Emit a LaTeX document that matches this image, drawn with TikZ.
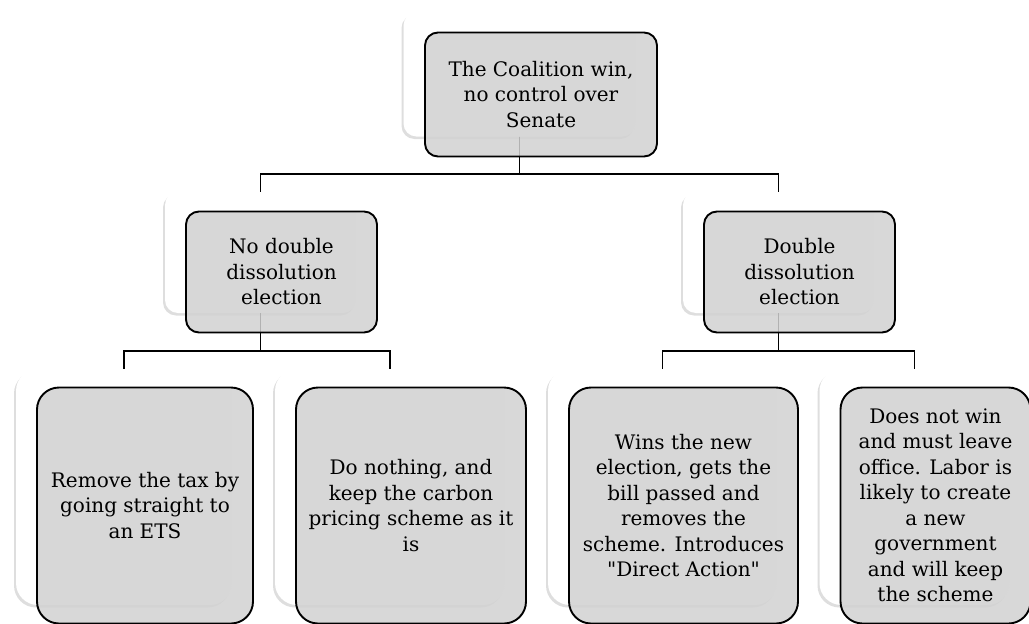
\documentclass[tikz,border=0pt]{standalone}
\usepackage{fontspec}
\usetikzlibrary{shadows}
\newfontfamily\boxfont{DejaVu Serif}

\tikzset{
    backbox/.style={fill=white, inner sep=0pt,
        drop shadow={shadow xshift=-2pt, shadow yshift=-2.5pt, opacity=0.13, fill=black}},
    frontbox/.style={draw=black, line width=1.9pt, fill=black!18, fill opacity=0.85,
        text opacity=1, inner sep=0pt, align=center,
        font=\boxfont\fontsize{20}{25.5}\selectfont},
    branch/.style={draw=black, line width=1.9pt},
}

\begin{document}
\begin{tikzpicture}[x=1pt, y=-1pt]
    \useasboundingbox (0,0) rectangle (1029,624);
    % back boxes
    \node[backbox, rounded corners=13pt, minimum width=232pt, minimum height=124pt] (coalition_win_bg) at (519.5,74.5) {};
    \node[backbox, rounded corners=13pt, minimum width=191pt, minimum height=121pt] (no_double_bg) at (260.5,252.5) {};
    \node[backbox, rounded corners=13pt, minimum width=191pt, minimum height=121pt] (double_diss_bg) at (778.5,252.5) {};
    \node[backbox, rounded corners=22pt, minimum width=216pt, minimum height=236pt] (remove_tax_bg) at (124,487) {};
    \node[backbox, rounded corners=22pt, minimum width=230pt, minimum height=236pt] (do_nothing_bg) at (390,487) {};
    \node[backbox, rounded corners=22pt, minimum width=229pt, minimum height=236pt] (wins_new_bg) at (662.5,487) {};
    \node[backbox, rounded corners=22pt, minimum width=190pt, minimum height=236pt] (does_not_win_bg) at (914.5,487) {};
    % connectors
    \draw[branch] (coalition_win_bg.south) -- ++(0,37) -| (no_double_bg.north);
    \draw[branch] (coalition_win_bg.south) -- ++(0,37) -| (double_diss_bg.north);
    \draw[branch] (no_double_bg.south) -- ++(0,38) -| (remove_tax_bg.north);
    \draw[branch] (no_double_bg.south) -- ++(0,38) -| (do_nothing_bg.north);
    \draw[branch] (double_diss_bg.south) -- ++(0,38) -| (wins_new_bg.north);
    \draw[branch] (double_diss_bg.south) -- ++(0,38) -| (does_not_win_bg.north);
    % front boxes
    \node[frontbox, rounded corners=13pt, minimum width=232pt, minimum height=124pt] (coalition_win) at ([shift={(21.5,20)}]coalition_win_bg.center) {The Coalition win,\\no control over\\Senate};
    \node[frontbox, rounded corners=13pt, minimum width=191pt, minimum height=121pt] (no_double) at ([shift={(21,19.5)}]no_double_bg.center) {No double\\dissolution\\election};
    \node[frontbox, rounded corners=13pt, minimum width=191pt, minimum height=121pt] (double_diss) at ([shift={(21,19.5)}]double_diss_bg.center) {Double\\dissolution\\election};
    \node[frontbox, rounded corners=22pt, minimum width=216pt, minimum height=236pt] (remove_tax) at ([shift={(21,18.5)}]remove_tax_bg.center) {Remove the tax by\\going straight to\\an ETS};
    \node[frontbox, rounded corners=22pt, minimum width=230pt, minimum height=236pt] (do_nothing) at ([shift={(21,18.5)}]do_nothing_bg.center) {Do nothing, and\\keep the carbon\\pricing scheme as it\\is};
    \node[frontbox, rounded corners=22pt, minimum width=229pt, minimum height=236pt] (wins_new) at ([shift={(21,18.5)}]wins_new_bg.center) {Wins the new\\election, gets the\\bill passed and\\removes the\\scheme. Introduces\\"Direct Action"};
    \node[frontbox, rounded corners=22pt, minimum width=190pt, minimum height=236pt] (does_not_win) at ([shift={(21,18.5)}]does_not_win_bg.center) {Does not win\\and must leave\\office. Labor is\\likely to create\\a new\\government\\and will keep\\the scheme};
\end{tikzpicture}
\end{document}
